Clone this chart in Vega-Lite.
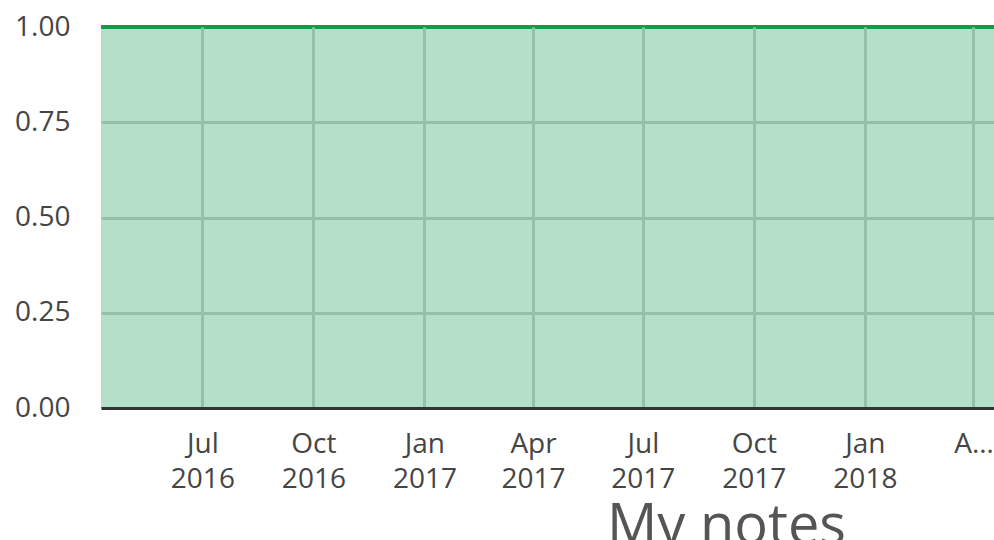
{
  "$schema": "https://vega.github.io/schema/vega-lite/v6.json",
  "width": 893,
  "height": 381,
  "autosize": {"type": "none"},
  "padding": {"left": 101, "top": 27, "right": 0, "bottom": 132},
  "background": "white",
  "config": {
    "view": {"stroke": null},
    "font": "Open Sans"
  },
  "title": {
    "text": "My notes",
    "orient": "bottom",
    "anchor": "middle",
    "dx": 179,
    "fontSize": 56,
    "font": "Open Sans",
    "fontWeight": "normal",
    "color": "#555555",
    "offset": 7
  },
  "data": {
    "values": [
      {"date": "2016-04-08", "notes": 1},
      {"date": "2016-07-01", "notes": 1},
      {"date": "2016-10-01", "notes": 1},
      {"date": "2017-01-01", "notes": 1},
      {"date": "2017-04-01", "notes": 1},
      {"date": "2017-07-01", "notes": 1},
      {"date": "2017-10-01", "notes": 1},
      {"date": "2018-01-01", "notes": 1},
      {"date": "2018-04-18", "notes": 1}
    ]
  },
  "encoding": {
    "x": {
      "field": "date",
      "type": "temporal",
      "scale": {"nice": false},
      "axis": {
        "title": null,
        "zindex": 1,
        "tickCount": {"interval": "month", "step": 3},
        "labelExpr": "datum.value >= datetime(2018, 2, 15) ? 'A…' : [timeFormat(datum.value, '%b'), timeFormat(datum.value, '%Y')]",
        "labelFont": "Open Sans",
        "labelFontSize": 28,
        "labelLineHeight": 35,
        "labelColor": "#454545",
        "labelPadding": 22,
        "labelFlush": false,
        "labelOverlap": false,
        "ticks": false,
        "domain": true,
        "domainColor": "#333333",
        "domainWidth": 3,
        "grid": true,
        "gridColor": "#96c0a8",
        "gridWidth": 3
      }
    },
    "y": {
      "field": "notes",
      "type": "quantitative",
      "scale": {"domain": [0, 1], "nice": false},
      "axis": {
        "title": null,
        "values": [0, 0.25, 0.5, 0.75, 1],
        "format": ".2f",
        "labelFont": "Open Sans",
        "labelFontSize": 28,
        "labelColor": "#454545",
        "labelPadding": 31,
        "ticks": false,
        "domain": false,
        "grid": true,
        "gridColor": "#d2d2d2",
        "gridWidth": 3
      }
    }
  },
  "layer": [
    {
      "mark": {"type": "area", "color": "#08984e", "opacity": 0.3}
    },
    {
      "mark": {"type": "line", "color": "#119e4b", "strokeWidth": 4, "clip": false}
    }
  ]
}
